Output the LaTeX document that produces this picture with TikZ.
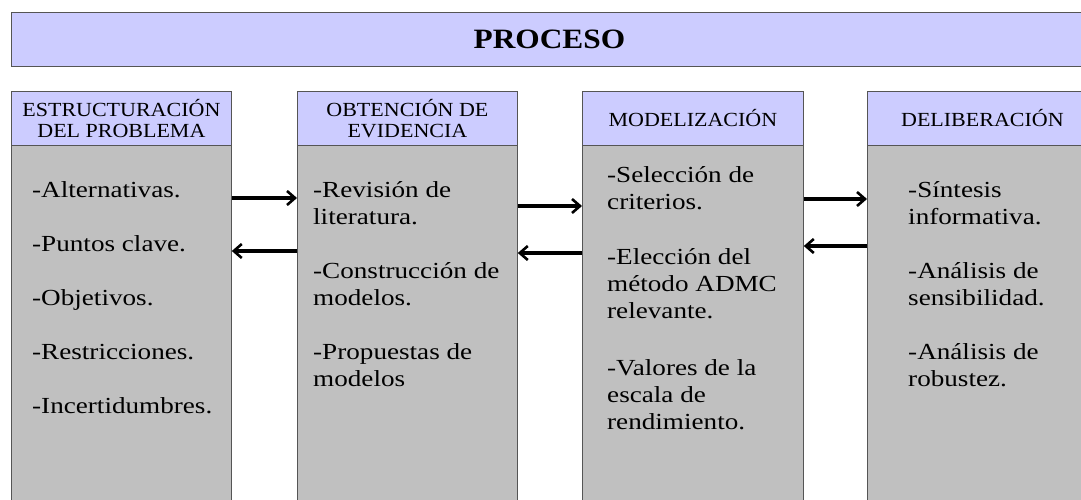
\documentclass[tikz,border=0pt]{standalone}
\usepackage{fontspec}
\setmainfont{Liberation Serif}
\newfontfamily\headfont[FakeStretch=1.1]{Liberation Serif}
\newfontfamily\bodyfont[FakeStretch=1.18]{Liberation Serif}
\newfontfamily\titlefont[FakeStretch=1.12]{Liberation Serif}
\usetikzlibrary{arrows.meta}
\definecolor{lavanda}{HTML}{CCCCFF}
\definecolor{gris}{HTML}{C0C0C0}
\definecolor{borde}{HTML}{555555}
\begin{document}
\begin{tikzpicture}
[x=1pt,y=-1pt,
  titledecorate/.style={shape=rectangle,draw=borde,fill=lavanda,line width=0.8pt,
    minimum width=1076pt,minimum height=54pt,inner sep=0pt,anchor=north west,
    font=\titlefont\bfseries\fontsize{28}{30}\selectfont},%
  headdecorate/.style={shape=rectangle,draw=borde,fill=lavanda,line width=0.8pt,
    minimum width=220pt,minimum height=54pt,inner sep=0pt,anchor=north west,
    align=center,font=\headfont\fontsize{20}{21}\selectfont},%
  bodydecorate/.style={shape=rectangle,draw=borde,fill=gris,line width=0.8pt,
    minimum width=220pt,minimum height=365pt,inner sep=0pt,anchor=north west},%
  textdecorate/.style={anchor=base west,inner sep=0pt,
    font=\bodyfont\fontsize{23}{27}\selectfont},%
  arrowdecorate/.style={-{Straight Barb[length=8pt,width=14pt,line width=2.6pt]},
    line width=3.3pt}]
\useasboundingbox (0,0) rectangle (1081,500);
%%% title bar
\node (proceso) at (11,12) [titledecorate] {PROCESO};
%
%%% columns
% bodies
\node (estb) at (11,145) [bodydecorate] {};
\node (obtb) at (297,145) [bodydecorate] {};
\node (modb) at (582,145) [bodydecorate,minimum width=221pt] {};
\node (delb) at (867,145) [bodydecorate,minimum width=230pt] {};
% headers
\node (est) at (11,91) [headdecorate] {ESTRUCTURACIÓN\\DEL PROBLEMA};
\node (obt) at (297,91) [headdecorate] {OBTENCIÓN DE\\EVIDENCIA};
\node (mod) at (582,91) [headdecorate,minimum width=221pt] {MODELIZACIÓN};
\node (del) at (867,91) [headdecorate,minimum width=230pt] {DELIBERACIÓN};
% texts
\node (estt) at (32,197) [textdecorate] {\parbox[t]{195pt}{%
  -Alternativas.\\[27pt]-Puntos clave.\\[27pt]-Objetivos.\\[27pt]%
  -Restricciones.\\[27pt]-Incertidumbres.}};
\node (obtt) at (313,197) [textdecorate] {\parbox[t]{200pt}{%
  -Revisión de\\literatura.\\[27pt]-Construcción de\\modelos.\\[27pt]%
  -Propuestas de\\modelos}};
\node (modt) at (607,182) [textdecorate] {\parbox[t]{190pt}{%
  -Selección de\\criterios.\\[28pt]-Elección del\\método ADMC\\relevante.\\[30pt]%
  -Valores de la\\escala de\\rendimiento.}};
\node (delt) at (908,197) [textdecorate] {\parbox[t]{170pt}{%
  -Síntesis\\informativa.\\[27pt]-Análisis de\\sensibilidad.\\[27pt]%
  -Análisis de\\robustez.}};
%
%%% arrows between columns
\draw[arrowdecorate] (estb.east |- 0,198) -- (obtb.west |- 0,198);
\draw[arrowdecorate] (obtb.west |- 0,251) -- (estb.east |- 0,251);
\draw[arrowdecorate] (obtb.east |- 0,206) -- (modb.west |- 0,206);
\draw[arrowdecorate] (modb.west |- 0,253) -- (obtb.east |- 0,253);
\draw[arrowdecorate] (modb.east |- 0,199) -- (delb.west |- 0,199);
\draw[arrowdecorate] (delb.west |- 0,246) -- (modb.east |- 0,246);
\end{tikzpicture}
\end{document}
